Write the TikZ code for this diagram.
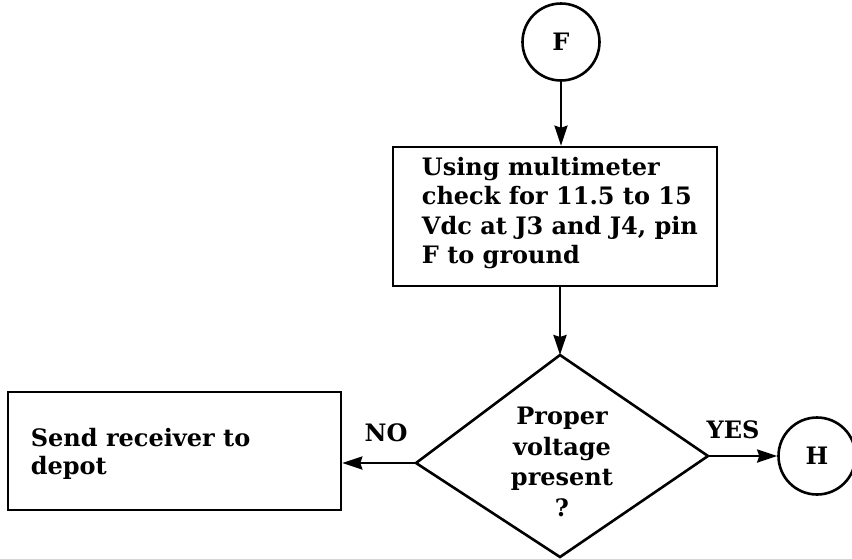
\documentclass[tikz,border=0pt]{standalone}
\usepackage{fontspec}
\setmainfont{DejaVu Serif}
\usetikzlibrary{arrows.meta}
\tikzset{
  ln/.style={line width=2.6pt},
  arr/.style={ln,-{Stealth[length=20pt,width=13pt,inset=2pt]}},
  conn/.style={ln,draw,circle,minimum size=77pt,inner sep=0pt},
  boxnode/.style={ln,draw,inner sep=0pt},
  txt/.style={font=\bfseries\fontsize{24}{29.5}\selectfont,inner sep=0pt},
}
\begin{document}
\begin{tikzpicture}[x=1pt,y=-1pt]
\useasboundingbox (0,0) rectangle (852,558);
% connector F
\node[conn,txt] (F) at (561,42) {F};
% process box
\node[boxnode,minimum width=324pt,minimum height=139pt] (box) at (555,216.5) {};
\node[txt,anchor=north west,align=left] (boxtxt) at ([xshift=30pt,yshift=-11pt]box.north west)
  {Using multimeter\\check for 11.5 to 15\\Vdc at J3 and J4, pin\\F to ground};
% decision diamond
\coordinate (dT) at (560,355);
\coordinate (dR) at (708,456);
\coordinate (dB) at (560,557);
\coordinate (dL) at (416,463);
\draw[ln,line join=miter] (dT) -- (dR) -- (dB) -- (dL) -- cycle;
\node[txt,align=center,font=\bfseries\fontsize{24}{30.5}\selectfont] (q) at (562,462)
  {Proper\\voltage\\present\\?};
% left box
\node[boxnode,minimum width=333pt,minimum height=118pt] (lb) at (174.5,451) {};
\node[txt,anchor=west,align=left,font=\bfseries\fontsize{24}{28}\selectfont] (lbtxt) at ([xshift=24pt,yshift=-3pt]lb.west)
  {Send receiver to\\depot};
% connector H
\node[conn,txt] (H) at (817,456) {H};
% arrows
\draw[arr] (F.south) -- (F.south |- box.north);
\draw[arr] (dT |- box.south) -- (dT);
\draw[arr] (dL) -- (dL -| lb.east);
\draw[arr] (dR) -- (dR -| H.west);
% labels
\node[txt] (no) at (386,433) {NO};
\node[txt] (yes) at (733,430) {YES};
\end{tikzpicture}
\end{document}
